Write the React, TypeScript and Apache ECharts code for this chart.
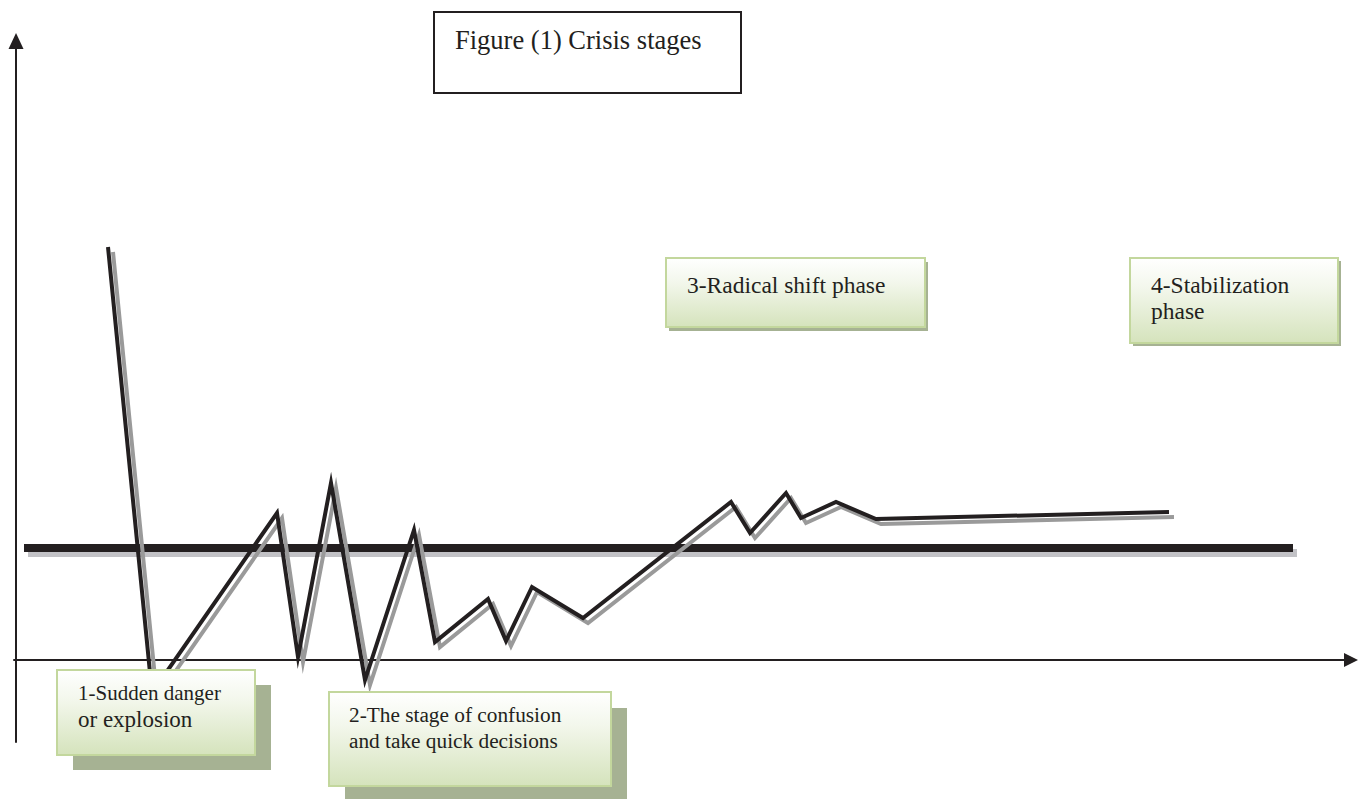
import React, { useEffect, useRef } from "react";
import * as echarts from "echarts";

// Crisis curve (x: time units, y: intensity; origin at the axes' crossing)
const curveX = [92, 136, 261, 282, 315, 349, 398, 419, 472, 490, 516, 567, 715, 734, 770, 785, 820, 860, 1153];
const curveY = [413, -33, 147, 3, 177, -20, 130, 18, 61, 19, 73, 42, 158, 127, 167, 142, 158, 141, 148];

// Reference (normal) level line
const levelX = [8, 1277];
const levelY = [112, 112];

const titleText = "Figure (1) Crisis stages";
const stage1 = ["1-Sudden danger", "or explosion"];
const stage2 = ["2-The stage of confusion", "and take quick decisions"];
const stage3 = ["3-Radical shift phase"];
const stage4 = ["4-Stabilization", "phase"];

const INK = "#231f20";
const SERIF = '"Liberation Serif", "Times New Roman", serif';

function box(x: number, y: number, w: number, h: number, dx: number, dy: number) {
  return [
    {
      type: "rect",
      z: 100,
      shape: { x: x + dx, y: y + dy, width: w, height: h },
      style: { fill: "#a6b293" },
    },
    {
      type: "rect",
      z: 101,
      shape: { x, y, width: w, height: h },
      style: {
        fill: new echarts.graphic.LinearGradient(0, 0, 0, 1, [
          { offset: 0, color: "#ffffff" },
          { offset: 0.35, color: "#f3f7ec" },
          { offset: 1, color: "#d5e3bc" },
        ]),
        stroke: "#c3d79d",
        lineWidth: 2,
      },
    },
  ];
}

function text(t: string, x: number, y: number, size: number) {
  return {
    type: "text",
    z: 102,
    x,
    y,
    style: {
      text: t,
      fill: INK,
      font: `${size}px ${SERIF}`,
      verticalAlign: "middle",
      align: "left",
    },
  };
}

export default function App() {
  const ref = useRef<HTMLDivElement>(null);
  useEffect(() => {
    if (!ref.current) return;
    const chart = echarts.init(ref.current, undefined, { renderer: "svg" });
    const curve = curveX.map((x, i) => [x, curveY[i]]);
    const curveShadow = curveX.map((x, i) => [x + 5, curveY[i] - 5]);
    const level = levelX.map((x, i) => [x, levelY[i]]);
    const levelShadow = levelX.map((x, i) => [x + 4, levelY[i] - 5]);

    const lineBase = {
      type: "line",
      symbol: "none",
      silent: true,
    };

    chart.setOption({
      animation: false,
      backgroundColor: "#ffffff",
      grid: { left: 14, right: 7, top: 41, bottom: 57, containLabel: false },
      xAxis: {
        type: "value",
        min: -2,
        max: 1335,
        axisLine: {
          show: true,
          onZero: true,
          symbol: ["none", "triangle"],
          symbolSize: [14, 14],
          lineStyle: { color: INK, width: 2 },
        },
        axisTick: { show: false },
        axisLabel: { show: false },
        splitLine: { show: false },
      },
      yAxis: {
        type: "value",
        min: -82,
        max: 619,
        axisLine: {
          show: true,
          onZero: true,
          symbol: ["none", "triangle"],
          symbolSize: [15, 16],
          lineStyle: { color: INK, width: 2 },
        },
        axisTick: { show: false },
        axisLabel: { show: false },
        splitLine: { show: false },
      },
      series: [
        {
          ...lineBase,
          name: "levelShadow",
          z: 1,
          data: levelShadow,
          lineStyle: { color: "#c2c2c6", width: 8, cap: "butt" },
        },
        {
          ...lineBase,
          name: "level",
          z: 2,
          data: level,
          lineStyle: { color: INK, width: 8, cap: "butt" },
        },
        {
          ...lineBase,
          name: "curveShadow",
          z: 3,
          data: curveShadow,
          lineStyle: { color: "#9a9a9a", width: 4, cap: "butt", join: "miter", miterLimit: 8 },
        },
        {
          ...lineBase,
          name: "curve",
          z: 4,
          data: curve,
          lineStyle: { color: INK, width: 4, cap: "butt", join: "miter", miterLimit: 8 },
        },
      ],
      graphic: [
        {
          type: "rect",
          z: 100,
          shape: { x: 434, y: 12, width: 307, height: 81 },
          style: { fill: "#ffffff", stroke: INK, lineWidth: 2 },
        },
        text(titleText, 455, 40, 26.5),
        ...box(57, 670, 198, 85, 16, 15),
        text(stage1[0], 78, 693, 21),
        text(stage1[1], 78, 719, 23),
        ...box(329, 692, 282, 94, 16, 16),
        text(stage2[0], 349, 715, 21.3),
        text(stage2[1], 349, 741, 21.3),
        ...box(666, 258, 259, 69, 3, 4),
        text(stage3[0], 687, 285, 23.5),
        ...box(1130, 258, 208, 85, 3, 3),
        text(stage4[0], 1151, 285, 23.5),
        text(stage4[1], 1151, 311, 23.5),
      ],
    });
    return () => chart.dispose();
  }, []);
  return (
    <div
      ref={ref}
      style={{ position: "absolute", left: 0, top: 0, width: 1358, height: 799 }}
    />
  );
}
